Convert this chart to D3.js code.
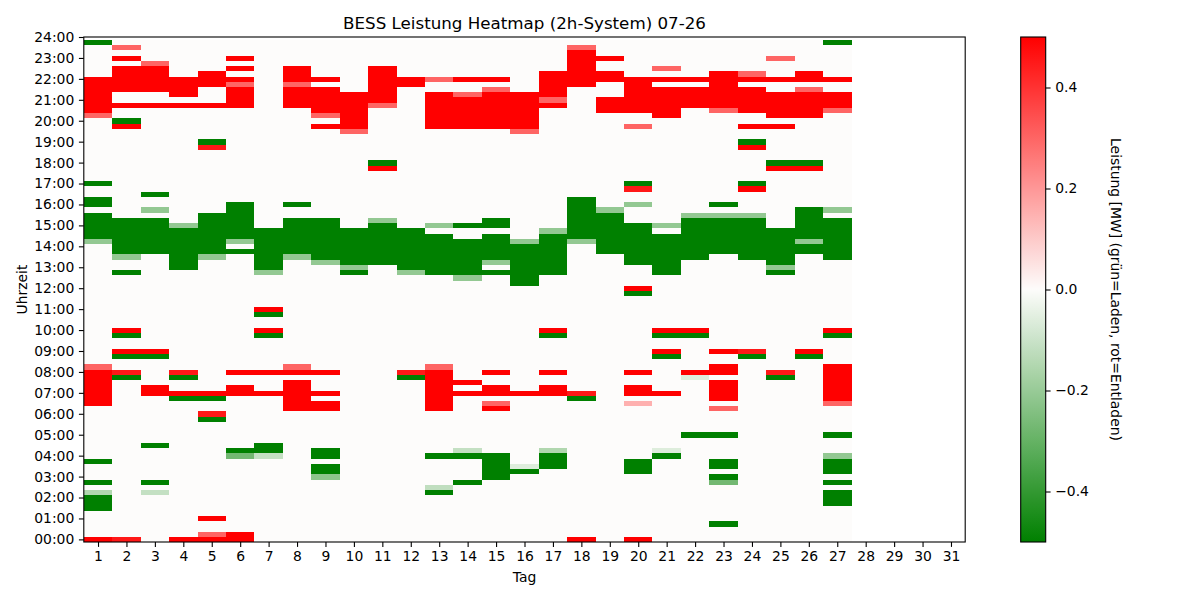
<!DOCTYPE html>
<html><head><meta charset="utf-8">
<script src="https://cdn.jsdelivr.net/npm/d3@7"></script>
<style>
body{margin:0;background:#fff}
text{font-family:"DejaVu Sans",sans-serif;fill:#000}
</style>
</head><body>
<svg id="chart" width="1200" height="600"></svg>
<script>
// ---- data: per day, runs of 15-min rows [firstRow, lastRow, MW]; rows not listed are 0
const d1  = [[0,0,0.5],[6,8,-0.5],[9,9,-0.15],[11,11,-0.5],[15,15,-0.5],[26,32,0.5],[33,33,0.3],[57,57,-0.21],[58,62,-0.5],[64,65,-0.5],[68,68,-0.5],[81,81,0.3],[82,88,0.5],[95,95,-0.5]];
const d2  = [[0,0,0.45],[31,31,-0.5],[32,32,0.45],[35,35,-0.5],[36,36,0.5],[39,39,-0.5],[40,40,0.5],[51,51,-0.5],[54,54,-0.21],[55,61,-0.5],[79,79,0.5],[80,80,-0.5],[83,83,0.5],[86,90,0.5],[92,92,0.5],[94,94,0.3]];
const d3_ = [[9,9,-0.11],[11,11,-0.5],[18,18,-0.5],[28,29,0.5],[35,35,-0.5],[36,36,0.5],[55,61,-0.5],[63,63,-0.21],[66,66,-0.5],[83,83,0.5],[86,90,0.5],[91,91,0.3]];
const d4  = [[0,0,0.5],[27,27,-0.5],[28,28,0.5],[31,31,-0.5],[32,32,0.45],[52,59,-0.5],[60,60,-0.21],[83,83,0.5],[85,88,0.5]];
const d5  = [[0,0,0.5],[1,1,0.3],[4,4,0.5],[23,23,-0.5],[24,24,0.45],[27,27,-0.5],[28,28,0.5],[54,54,-0.21],[55,62,-0.5],[75,75,0.45],[76,76,-0.5],[83,83,0.5],[87,89,0.5]];
const d6  = [[0,1,0.5],[16,16,-0.27],[17,17,-0.5],[28,29,0.5],[32,32,0.5],[55,55,-0.5],[57,57,-0.21],[58,64,-0.5],[83,86,0.5],[87,87,0.3],[88,88,0.5],[90,90,0.5],[92,92,0.5]];
const d7  = [[16,16,-0.11],[17,18,-0.5],[28,28,0.5],[32,32,0.5],[39,39,-0.5],[40,40,0.5],[43,43,-0.5],[44,44,0.5],[51,51,-0.21],[52,59,-0.5]];
const d8  = [[25,30,0.5],[32,32,0.5],[33,33,0.3],[54,54,-0.21],[55,61,-0.5],[64,64,-0.5],[83,86,0.5],[87,87,0.3],[88,90,0.5]];
const d9  = [[12,12,-0.22],[13,14,-0.5],[16,17,-0.5],[25,26,0.5],[28,28,0.5],[32,32,0.5],[53,53,-0.21],[54,61,-0.5],[79,79,0.5],[81,81,0.3],[82,86,0.5],[88,88,0.5]];
const d10 = [[51,51,-0.5],[52,52,-0.21],[53,59,-0.5],[78,78,0.3],[79,85,0.5]];
const d11 = [[53,60,-0.5],[61,61,-0.21],[71,71,0.5],[72,72,-0.5],[83,83,0.3],[84,90,0.5]];
const d12 = [[31,31,-0.5],[32,32,0.45],[51,51,-0.21],[52,59,-0.5],[87,88,0.5]];
const d13 = [[9,9,-0.5],[10,10,-0.12],[16,16,-0.5],[25,32,0.5],[33,33,0.3],[51,58,-0.5],[60,60,-0.21],[79,85,0.5],[88,88,0.3]];
const d14 = [[11,11,-0.5],[16,16,-0.5],[17,17,-0.11],[28,28,0.5],[30,30,0.5],[50,50,-0.21],[51,57,-0.5],[60,60,-0.5],[79,84,0.5],[85,85,0.3],[88,88,0.5]];
const d15 = [[12,16,-0.5],[25,25,0.5],[26,26,0.3],[28,29,0.5],[32,32,0.5],[51,51,-0.5],[53,53,-0.21],[54,58,-0.5],[60,61,-0.5],[79,85,0.5],[86,86,0.3],[88,88,0.5]];
const d16 = [[13,13,-0.5],[14,14,-0.06],[28,28,0.5],[49,56,-0.5],[57,57,-0.21],[78,78,0.3],[79,85,0.5]];
const d17 = [[14,16,-0.5],[17,17,-0.15],[28,29,0.5],[32,32,0.5],[39,39,-0.5],[40,40,0.5],[51,58,-0.5],[59,59,-0.21],[83,83,0.5],[84,84,0.3],[85,89,0.5]];
const d18 = [[0,0,0.5],[27,27,-0.5],[28,28,0.45],[57,57,-0.21],[58,65,-0.5],[87,93,0.5],[94,94,0.3]];
const d19 = [[55,62,-0.5],[63,63,-0.21],[82,84,0.5],[88,89,0.5],[92,92,0.5]];
const d20 = [[0,0,0.5],[13,15,-0.5],[26,26,0.15],[28,29,0.5],[32,32,0.5],[47,47,-0.5],[48,48,0.5],[53,60,-0.5],[64,64,-0.21],[67,67,0.45],[68,68,-0.5],[79,79,0.3],[82,88,0.5]];
const d21 = [[16,16,-0.5],[17,17,-0.06],[28,28,0.5],[35,35,-0.5],[36,36,0.5],[39,39,-0.5],[40,40,0.5],[51,58,-0.5],[60,60,-0.21],[81,86,0.5],[88,88,0.5],[90,90,0.3]];
const d22 = [[20,20,-0.5],[31,31,-0.06],[32,32,0.5],[39,39,-0.5],[40,40,0.5],[54,61,-0.5],[62,62,-0.21],[83,86,0.5],[88,88,0.5]];
const d23 = [[3,3,-0.5],[11,11,-0.27],[12,12,-0.5],[14,15,-0.5],[20,20,-0.5],[25,25,0.3],[27,30,0.5],[32,33,0.5],[36,36,0.5],[55,61,-0.5],[62,62,-0.21],[64,64,-0.5],[82,82,0.3],[83,89,0.5]];
const d24 = [[35,35,-0.5],[36,36,0.45],[54,61,-0.5],[62,62,-0.21],[67,67,0.5],[68,68,-0.5],[75,75,0.5],[76,76,-0.5],[79,79,0.5],[82,86,0.5],[88,88,0.5],[89,89,0.3]];
const d25 = [[31,31,-0.5],[32,32,0.45],[51,51,-0.5],[52,52,-0.21],[53,59,-0.5],[71,71,0.5],[72,72,-0.5],[79,79,0.5],[81,85,0.5],[88,88,0.5],[92,92,0.3]];
const d26 = [[35,35,-0.5],[36,36,0.5],[55,56,-0.5],[57,57,-0.21],[58,63,-0.5],[71,71,0.5],[72,72,-0.5],[81,85,0.5],[86,86,0.3],[88,89,0.5]];
const d27 = [[7,9,-0.5],[11,11,-0.5],[13,15,-0.5],[16,16,-0.21],[20,20,-0.5],[26,26,0.3],[27,33,0.5],[39,39,-0.5],[40,40,0.5],[54,61,-0.5],[63,63,-0.21],[82,82,0.3],[83,85,0.5],[88,88,0.5],[95,95,-0.5]];
const runsByDay = [d1,d2,d3_,d4,d5,d6,d7,d8,d9,d10,d11,d12,d13,d14,d15,d16,d17,d18,d19,d20,d21,d22,d23,d24,d25,d26,d27];

const dayLabels = ["1","2","3","4","5","6","7","8","9","10","11","12","13","14","15","16","17","18","19","20","21","22","23","24","25","26","27","28","29","30","31"];
const hourLabels = ["00:00","01:00","02:00","03:00","04:00","05:00","06:00","07:00","08:00","09:00","10:00","11:00","12:00","13:00","14:00","15:00","16:00","17:00","18:00","19:00","20:00","21:00","22:00","23:00","24:00"];
const cbTicks = [-0.4,-0.2,0.0,0.2,0.4];
const rowsPerDay = 96;

// ---- layout
const svg = d3.select("#chart");
const L = 83.8, R = 965.2, T = 37, B = 542;
const x = d3.scaleLinear().domain([-0.5, dayLabels.length - 0.5]).range([L, R]);
const y = d3.scaleLinear().domain([-0.5, rowsPerDay]).range([B, T]);

// colormap green - white - red, 256-step LUT like matplotlib
const cGreen = d3.rgb(0,128,0), cMid = d3.rgb(253,252,251), cRed = d3.rgb(255,0,0);
function cmap(v){
  if (v === 0) return cMid.formatRgb();
  let t = (v + 0.5) / 1.0;
  t = Math.max(0, Math.min(1, t));
  const idx = Math.min(255, Math.floor(t * 256));
  const s = idx / 255;
  if (s < 0.5) return d3.interpolateRgb(cGreen, cMid)(s / 0.5);
  return d3.interpolateRgb(cMid, cRed)((s - 0.5) / 0.5);
}

// build cells
const cells = [];
runsByDay.forEach((runs, di) => {
  const col = new Array(rowsPerDay).fill(0);
  runs.forEach(([a,b,v]) => { for (let r=a; r<=b; r++) col[r] = v; });
  col.forEach((v, r) => cells.push({day: di, row: r, v}));
});

svg.append("g").attr("shape-rendering","crispEdges")
  .selectAll("rect").data(cells).join("rect")
  .attr("x", d => x(d.day - 0.5))
  .attr("width", d => x(d.day + 0.5) - x(d.day - 0.5) + 0.3)
  .attr("y", d => y(d.row + 0.5))
  .attr("height", d => y(d.row - 0.5) - y(d.row + 0.5) + 0.3)
  .attr("fill", d => cmap(d.v));

// frame
svg.append("rect").attr("x", L).attr("y", T).attr("width", R-L).attr("height", B-T)
  .attr("fill","none").attr("stroke","#000").attr("stroke-width",1.1);

// axes
const fs = 13.9;
const xAxis = d3.axisBottom(x).tickValues(d3.range(dayLabels.length))
  .tickFormat(i => dayLabels[i]).tickSize(4.9).tickPadding(4.6).tickSizeOuter(0);
const gx = svg.append("g").attr("transform", `translate(0,${B})`).call(xAxis);
const yAxis = d3.axisLeft(y).tickValues(hourLabels.map((h,i) => i*4))
  .tickFormat((r,i) => hourLabels[i]).tickSize(4.9).tickPadding(4.6).tickSizeOuter(0);
const gy = svg.append("g").attr("transform", `translate(${L},0)`).call(yAxis);
[gx, gy].forEach(g => {
  g.select(".domain").remove();
  g.selectAll(".tick line").attr("stroke","#000").attr("stroke-width",1.1);
  g.selectAll(".tick text").attr("font-size", fs).attr("font-family","DejaVu Sans").attr("fill","#000");
});

// title & labels
svg.append("text").attr("x",(L+R)/2).attr("y",29).attr("text-anchor","middle")
  .attr("font-size",16.7).text("BESS Leistung Heatmap (2h-System) 07-26");
svg.append("text").attr("x",(L+R)/2).attr("y",582).attr("text-anchor","middle")
  .attr("font-size",fs).text("Tag");
svg.append("text").attr("transform",`translate(27,${(T+B)/2}) rotate(-90)`)
  .attr("text-anchor","middle").attr("font-size",fs).text("Uhrzeit");

// colorbar
const cbX = 1020.7, cbW = 25;
const cy = d3.scaleLinear().domain([-0.5, 0.5]).range([B, T]);
const defs = svg.append("defs");
const grad = defs.append("linearGradient").attr("id","cbg")
  .attr("x1",0).attr("y1",1).attr("x2",0).attr("y2",0);
d3.range(0, 256).forEach(i => {
  const v = -0.5 + (i + 0.5) / 256;
  grad.append("stop").attr("offset", i/255).attr("stop-color", cmap(v));
});
svg.append("rect").attr("x",cbX).attr("y",T).attr("width",cbW).attr("height",B-T)
  .attr("fill","url(#cbg)").attr("stroke","#000").attr("stroke-width",1.1);
const cbAxis = d3.axisRight(cy).tickValues(cbTicks).tickFormat(d3.format(".1f"))
  .tickSize(4.9).tickPadding(4.6).tickSizeOuter(0);
const gc = svg.append("g").attr("transform",`translate(${cbX+cbW},0)`).call(cbAxis);
gc.select(".domain").remove();
gc.selectAll(".tick line").attr("stroke","#000").attr("stroke-width",1.1);
gc.selectAll(".tick text").attr("font-size", fs).attr("font-family","DejaVu Sans").attr("fill","#000");
svg.append("text").attr("transform",`translate(1111,${(T+B)/2}) rotate(90)`)
  .attr("text-anchor","middle").attr("font-size",fs)
  .text("Leistung [MW] (grün=Laden, rot=Entladen)");
</script>
</body></html>
